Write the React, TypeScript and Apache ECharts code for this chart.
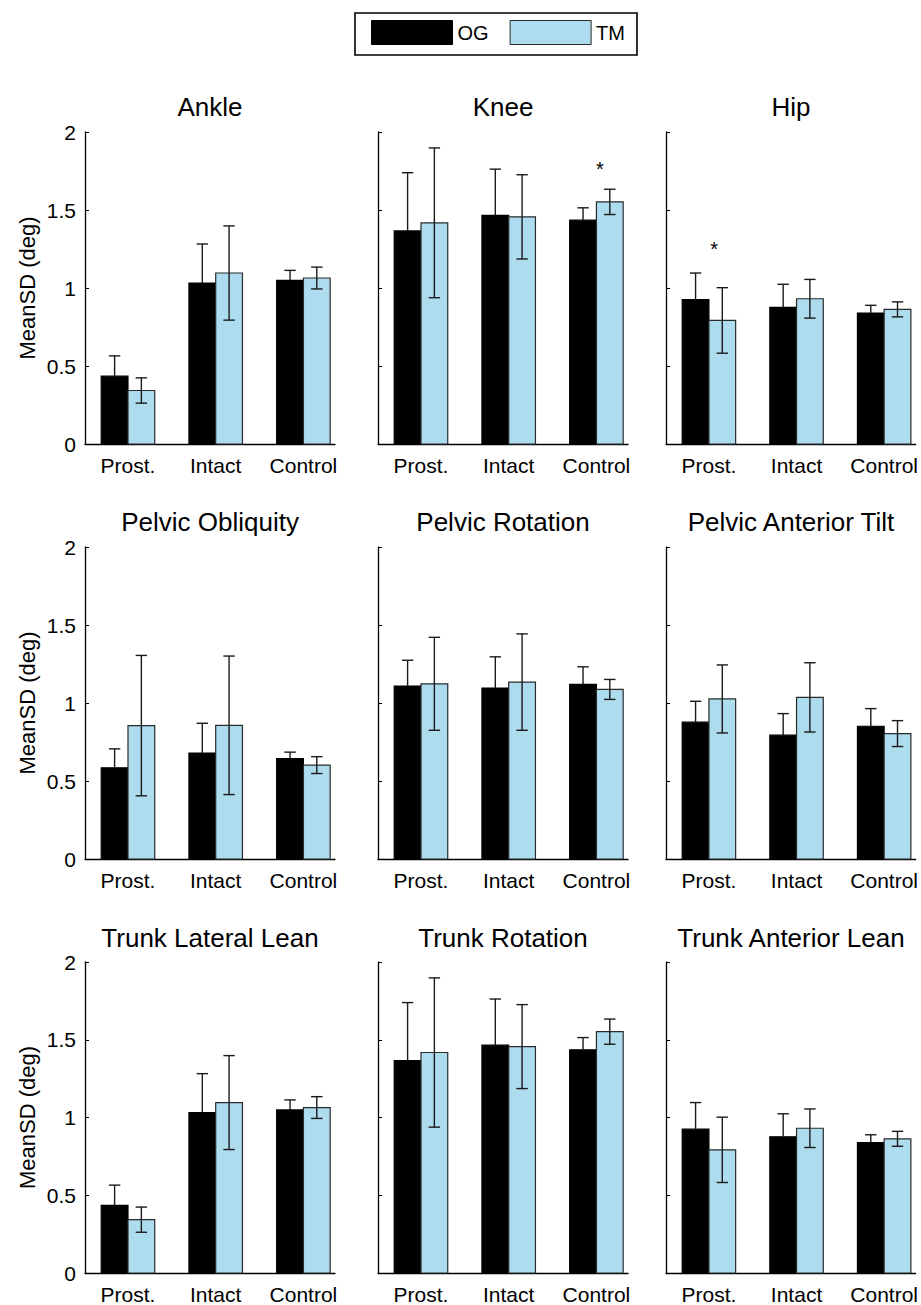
import React, { useEffect, useRef } from "react";
import * as echarts from "echarts";

// ---- data ----
const groups = ["Prost.", "Intact", "Control"];
const groupPos = [1, 2, 3];
const yTicks = [0, 0.5, 1, 1.5, 2];

const panelTitles = [
  "Ankle", "Knee", "Hip",
  "Pelvic Obliquity", "Pelvic Rotation", "Pelvic Anterior Tilt",
  "Trunk Lateral Lean", "Trunk Rotation", "Trunk Anterior Lean",
];

const ankleOG = [0.435, 1.032, 1.049];
const ankleOGErr = [0.13, 0.25, 0.064];
const ankleTM = [0.343, 1.096, 1.064];
const ankleTMErr = [0.081, 0.302, 0.07];

const kneeOG = [1.366, 1.465, 1.435];
const kneeOGErr = [0.373, 0.297, 0.079];
const kneeTM = [1.418, 1.456, 1.552];
const kneeTMErr = [0.48, 0.27, 0.081];

const hipOG = [0.925, 0.876, 0.839];
const hipOGErr = [0.171, 0.148, 0.05];
const hipTM = [0.792, 0.931, 0.863];
const hipTMErr = [0.21, 0.124, 0.048];

const pelvObOG = [0.585, 0.679, 0.643];
const pelvObOGErr = [0.121, 0.191, 0.042];
const pelvObTM = [0.855, 0.857, 0.602];
const pelvObTMErr = [0.45, 0.444, 0.054];

const pelvRotOG = [1.109, 1.096, 1.119];
const pelvRotOGErr = [0.165, 0.2, 0.113];
const pelvRotTM = [1.123, 1.134, 1.087];
const pelvRotTMErr = [0.298, 0.309, 0.064];

const pelvTiltOG = [0.877, 0.794, 0.851];
const pelvTiltOGErr = [0.134, 0.138, 0.113];
const pelvTiltTM = [1.026, 1.036, 0.804];
const pelvTiltTMErr = [0.218, 0.222, 0.083];

const trunkLatOG = [0.435, 1.032, 1.049];
const trunkLatOGErr = [0.13, 0.25, 0.064];
const trunkLatTM = [0.343, 1.096, 1.064];
const trunkLatTMErr = [0.081, 0.302, 0.07];

const trunkRotOG = [1.366, 1.465, 1.435];
const trunkRotOGErr = [0.373, 0.297, 0.079];
const trunkRotTM = [1.418, 1.456, 1.552];
const trunkRotTMErr = [0.48, 0.27, 0.081];

const trunkAntOG = [0.925, 0.876, 0.839];
const trunkAntOGErr = [0.171, 0.148, 0.05];
const trunkAntTM = [0.792, 0.931, 0.863];
const trunkAntTMErr = [0.21, 0.124, 0.048];

// significance markers: [x position, y position] per panel
const kneeSig = [[3.04, 1.76]];
const hipSig = [[1.06, 1.25]];

const panelData = [
  [ankleOG, ankleOGErr, ankleTM, ankleTMErr, []],
  [kneeOG, kneeOGErr, kneeTM, kneeTMErr, kneeSig],
  [hipOG, hipOGErr, hipTM, hipTMErr, hipSig],
  [pelvObOG, pelvObOGErr, pelvObTM, pelvObTMErr, []],
  [pelvRotOG, pelvRotOGErr, pelvRotTM, pelvRotTMErr, []],
  [pelvTiltOG, pelvTiltOGErr, pelvTiltTM, pelvTiltTMErr, []],
  [trunkLatOG, trunkLatOGErr, trunkLatTM, trunkLatTMErr, []],
  [trunkRotOG, trunkRotOGErr, trunkRotTM, trunkRotTMErr, []],
  [trunkAntOG, trunkAntOGErr, trunkAntTM, trunkAntTMErr, []],
];

// ---- layout / style ----
const W = 921;
const H = 1305;
const colLeft = [85, 378, 666];
const colWidth = 250;
const rowTop = [132, 547, 962];
const rowHeight = 312;
const titleY = [107, 522, 938];
const X_MIN = 0.51;
const X_MAX = 3.36;
const BAR_W = 0.305;
const CAP = 0.065;
const FONT = "'Liberation Sans', Arial, Helvetica, sans-serif";
const OG_COLOR = "#000000";
const TM_COLOR = "#addcee";
const EDGE = "#2a2a2a";
const ERR_COLOR = "#1a1a1a";

function makeBarRender(side: number, fill: string) {
  return (params: any, api: any) => {
    const x = api.value(0);
    const m = api.value(1);
    const e = api.value(2);
    const x0 = side < 0 ? x - BAR_W : x;
    const x1 = side < 0 ? x : x + BAR_W;
    const cx = (x0 + x1) / 2;
    const pTop = api.coord([x0, m]);
    const pBot = api.coord([x1, 0]);
    const eTop = api.coord([cx, m + e]);
    // the lower half of the black bar's error line is hidden inside the black bar
    const eBot = side < 0 ? api.coord([cx, m]) : api.coord([cx, m - e]);
    const cl = api.coord([cx - CAP, 0])[0];
    const cr = api.coord([cx + CAP, 0])[0];
    const errStyle = { stroke: ERR_COLOR, lineWidth: 1.4 };
    const children: any[] = [
      {
        type: "rect",
        shape: { x: pTop[0], y: pTop[1], width: pBot[0] - pTop[0], height: pBot[1] - pTop[1] },
        style: { fill, stroke: side < 0 ? "#000" : EDGE, lineWidth: 1.2 },
      },
      { type: "line", shape: { x1: eTop[0], y1: eTop[1], x2: eBot[0], y2: eBot[1] }, style: errStyle },
      { type: "line", shape: { x1: cl, y1: eTop[1], x2: cr, y2: eTop[1] }, style: errStyle },
    ];
    if (side > 0) {
      children.push({ type: "line", shape: { x1: cl, y1: eBot[1], x2: cr, y2: eBot[1] }, style: errStyle });
    }
    return { type: "group", children };
  };
}

function sigRender(params: any, api: any) {
  const p = api.coord([api.value(0), api.value(1)]);
  return {
    type: "text",
    x: p[0],
    y: p[1],
    style: { text: "*", fill: "#000", font: `20px ${FONT}`, textAlign: "center", textVerticalAlign: "middle" },
  };
}

function buildOption() {
  const grid: any[] = [];
  const xAxis: any[] = [];
  const yAxis: any[] = [];
  const series: any[] = [];
  const graphic: any[] = [];

  panelTitles.forEach((title, i) => {
    const r = Math.floor(i / 3);
    const c = i % 3;
    grid.push({ left: colLeft[c], top: rowTop[r], width: colWidth, height: rowHeight, containLabel: false });
    xAxis.push({
      type: "value",
      gridIndex: i,
      min: X_MIN,
      max: X_MAX,
      splitNumber: 3,
      minInterval: 1,
      axisLine: { show: true, onZero: false, lineStyle: { color: "#000", width: 1.3 } },
      axisTick: { show: false },
      splitLine: { show: false },
      axisLabel: {
        show: true,
        margin: 11,
        fontSize: 21,
        fontFamily: FONT,
        color: "#000",
        showMinLabel: true,
        showMaxLabel: true,
        formatter: (v: number) => {
          const k = groupPos.indexOf(Math.round(v));
          return k >= 0 && Math.abs(v - Math.round(v)) < 1e-6 ? groups[k] : "";
        },
      },
    });
    yAxis.push({
      type: "value",
      gridIndex: i,
      min: yTicks[0],
      max: yTicks[yTicks.length - 1],
      interval: yTicks[1] - yTicks[0],
      name: c === 0 ? "MeanSD (deg)" : "",
      nameLocation: "middle",
      nameGap: 47,
      nameTextStyle: { fontSize: 22, fontFamily: FONT, color: "#000" },
      axisLine: { show: true, lineStyle: { color: "#000", width: 1.3 } },
      axisTick: { show: true, inside: true, length: 4, lineStyle: { color: "#000", width: 1 } },
      splitLine: { show: false },
      axisLabel: { show: c === 0, fontSize: 21, fontFamily: FONT, color: "#000", margin: 9 },
    });

    const [og, ogErr, tm, tmErr, sig] = panelData[i] as any[];
    series.push({
      type: "custom",
      name: "OG",
      xAxisIndex: i,
      yAxisIndex: i,
      itemStyle: { color: OG_COLOR, borderColor: "#000" },
      renderItem: makeBarRender(-1, OG_COLOR),
      encode: { x: 0, y: 1 },
      data: groupPos.map((x, k) => [x, og[k], ogErr[k]]),
      clip: false,
    });
    series.push({
      type: "custom",
      name: "TM",
      xAxisIndex: i,
      yAxisIndex: i,
      itemStyle: { color: TM_COLOR, borderColor: EDGE },
      renderItem: makeBarRender(1, TM_COLOR),
      encode: { x: 0, y: 1 },
      data: groupPos.map((x, k) => [x, tm[k], tmErr[k]]),
      clip: false,
    });
    if (sig.length) {
      series.push({
        type: "custom",
        name: "sig",
        xAxisIndex: i,
        yAxisIndex: i,
        renderItem: sigRender,
        encode: { x: 0, y: 1 },
        data: sig,
        clip: false,
      });
    }

    graphic.push({
      type: "text",
      x: colLeft[c] + colWidth / 2,
      y: titleY[r],
      style: {
        text: title,
        fill: "#000",
        font: `26px ${FONT}`,
        textAlign: "center",
        textVerticalAlign: "middle",
      },
    });
  });

  return {
    animation: false,
    backgroundColor: "#fff",
    textStyle: { fontFamily: FONT },
    legend: {
      data: [
        { name: "OG", icon: "rect", itemStyle: { color: OG_COLOR, borderColor: "#000", borderWidth: 1 } },
        { name: "TM", icon: "rect", itemStyle: { color: TM_COLOR, borderColor: EDGE, borderWidth: 1 } },
      ],
      left: 355,
      top: 13,
      orient: "horizontal",
      padding: [7, 12, 10, 16],
      itemWidth: 81,
      itemHeight: 24,
      itemGap: 21,
      borderColor: "#000",
      borderWidth: 1.6,
      selectedMode: false,
      textStyle: { fontSize: 20, fontFamily: FONT, color: "#000" },
    },
    grid,
    xAxis,
    yAxis,
    series,
    graphic,
  };
}

export default function App() {
  const ref = useRef<HTMLDivElement>(null);
  useEffect(() => {
    if (!ref.current) return;
    const chart = echarts.init(ref.current, null, { renderer: "svg" });
    chart.setOption(buildOption() as any);
    return () => chart.dispose();
  }, []);
  return (
    <div
      ref={ref}
      style={{ position: "absolute", left: 0, top: 0, width: W, height: H, background: "#fff" }}
    />
  );
}
